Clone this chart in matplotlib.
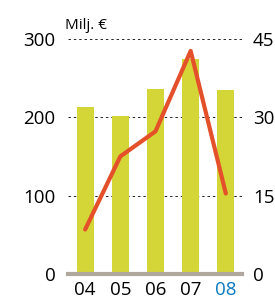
import matplotlib
matplotlib.use('Agg')
import numpy as np
import matplotlib.pyplot as plt

# vuodet, liikevaihto (palkit, vasen akseli) ja tulos (viiva, oikea akseli)
years = ['04', '05', '06', '07', '08']
bars = [213, 201, 236, 274, 235]
line = [8.5, 22.5, 27.3, 42.7, 15.4]
left_ticks = [0, 100, 200, 300]
right_ticks = [0, 15, 30, 45]

plt.rcParams['font.family'] = ['Open Sans', 'DejaVu Sans']

fig = plt.figure(figsize=(2.75, 3.04), dpi=100)
ax = fig.add_axes([0.247, 0.099, 0.633, 0.773])
x = np.arange(len(years))

ax.bar(x, bars, width=0.48, color='#d4d638', zorder=2)
for t in left_ticks[1:]:
    ax.axhline(t, color='#222222', lw=0.7, ls=(0, (2.5, 3)), zorder=1)
ax.set_xlim(-0.49, 4.46)
ax.set_ylim(0, 300)
ax.set_yticks(left_ticks)
ax.set_xticks(x)
ax.set_xticklabels(years)
ax.get_xticklabels()[-1].set_color('#0a78be')
for s in ['top', 'right', 'left']:
    ax.spines[s].set_visible(False)
ax.spines['bottom'].set_color('#b0a89e')
ax.spines['bottom'].set_linewidth(3)
ax.spines['bottom'].set_zorder(4)
ax.tick_params(length=0, labelsize=13.5, pad=9)
ax.tick_params(axis='x', pad=5)

ax2 = ax.twinx()
ax2.plot(x, line, color='#e4502a', lw=3, solid_capstyle='round', zorder=3)
ax2.set_ylim(0, 45)
ax2.set_yticks(right_ticks)
for s in ax2.spines.values():
    s.set_visible(False)
ax2.tick_params(length=0, labelsize=13.5, pad=8)

fig.text(0.235, 0.905, 'Milj. €', fontsize=11)

plt.savefig('out.png', dpi=100)
